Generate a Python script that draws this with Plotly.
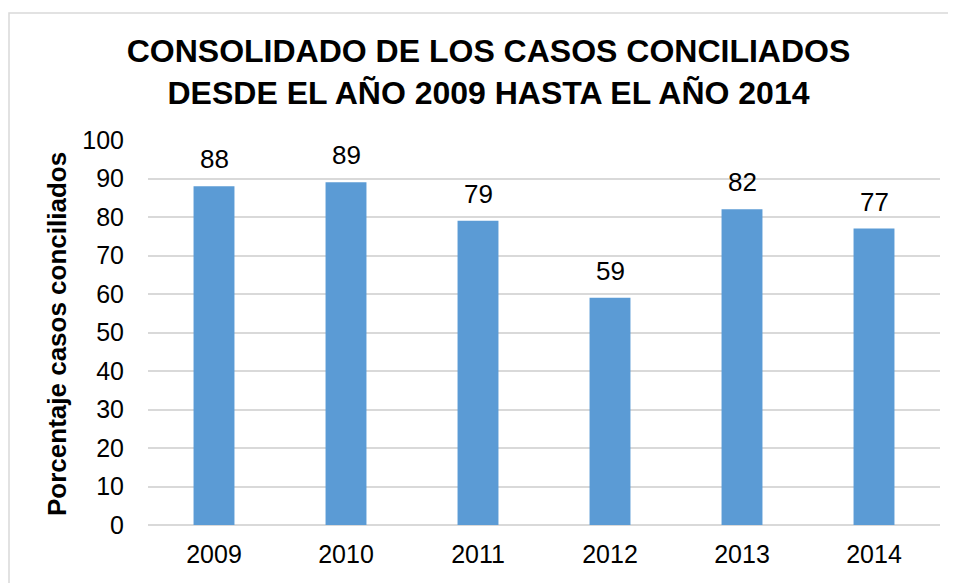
import plotly.graph_objects as go

years = ["2009", "2010", "2011", "2012", "2013", "2014"]
values = [88, 89, 79, 59, 82, 77]
y_ticks = [0, 10, 20, 30, 40, 50, 60, 70, 80, 90, 100]

FONT = "Liberation Sans, Arial, sans-serif"
OFF = 8  # page body margin offset
W, H = 956 - OFF, 583 - OFF
L, T = 148 - OFF, 140 - OFF
R, B = W - (940 - OFF), H - (525 - OFF)
pw, ph = W - L - R, H - T - B

def px_x(ref_x):
    return (ref_x - OFF - L) / pw

def px_y(ref_y):
    return (H - B - (ref_y - OFF)) / ph

fig = go.Figure()
fig.add_trace(go.Bar(
    x=years, y=values,
    marker=dict(color="#5B9BD5", line=dict(width=0)),
    width=0.31,
    hoverinfo="x+y",
))

annotations = []
for i, v in enumerate(values):
    annotations.append(dict(
        x=i, y=v, xref="x", yref="y", text=str(v), showarrow=False,
        yanchor="bottom", yshift=10,
        font=dict(family=FONT, size=26, color="#000000"),
    ))
annotations.append(dict(
    x=px_x(57), y=px_y(334), xref="paper", yref="paper",
    text="<b>Porcentaje casos conciliados</b>", textangle=-90, showarrow=False,
    xanchor="center", yanchor="middle",
    font=dict(family=FONT, size=26, color="#000000"),
))

fig.update_layout(
    width=W, height=H,
    margin=dict(l=L, r=R, t=T, b=B, pad=0),
    paper_bgcolor="white", plot_bgcolor="white",
    showlegend=False,
    title=dict(
        text="<b>CONSOLIDADO DE LOS CASOS CONCILIADOS<br>DESDE EL AÑO 2009 HASTA EL AÑO 2014</b>",
        x=(488.5 - OFF) / W, xanchor="center", xref="container",
        y=1 - 54 / H, yanchor="middle", yref="container",
        font=dict(family=FONT, size=32, color="#000000"),
    ),
    xaxis=dict(
        type="category", showgrid=False, showline=False, zeroline=False,
        tickfont=dict(family=FONT, size=25, color="#000000"),
        ticks="", ticklabelstandoff=12,
    ),
    yaxis=dict(
        range=[0, 100], tickvals=y_ticks, showgrid=True, gridcolor="#d9d9d9",
        gridwidth=1.5, zeroline=True, zerolinecolor="#d9d9d9", zerolinewidth=1.5,
        showline=False, ticks="", ticklabelstandoff=23,
        tickfont=dict(family=FONT, size=25, color="#000000"),
    ),
    annotations=annotations,
    shapes=[dict(
        type="rect", xref="paper", yref="paper",
        x0=px_x(9), x1=px_x(980),
        y0=px_y(600), y1=px_y(13),
        line=dict(color="#d9d9d9", width=1.5), fillcolor="rgba(0,0,0,0)",
        layer="below",
    )],
)

fig.write_html("out.html")
